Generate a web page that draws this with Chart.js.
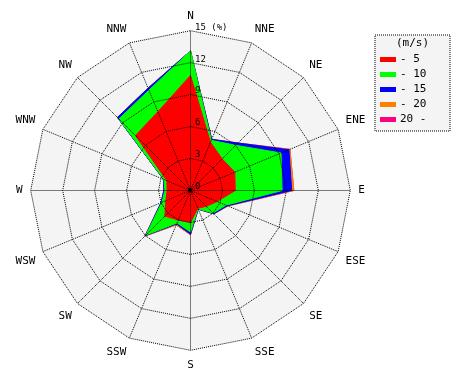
<!DOCTYPE html>
<html><head><meta charset="utf-8">
<script src="https://cdn.jsdelivr.net/npm/chart.js@4/dist/chart.umd.min.js"></script>
<style>html,body{margin:0;padding:0;background:#fff}</style>
</head><body>
<canvas id="c" width="470" height="380"></canvas>
<script>
// ---- data (percent frequency per speed class) ----
const directions = ['N','NNE','NE','ENE','E','ESE','SE','SSE','S','SSW','SW','WSW','W','WNW','NW','NNW'];
const speedClasses = ['- 5','- 10','- 15','- 20','20 -'];
const speedUnit = '(m/s)';
const freqUpTo5   = [10.8, 4.9, 4.2, 4.5, 4.2, 2.7, 2.1, 1.8, 3.0, 3.0, 3.4, 2.5, 2.2, 2.4, 7.3, 8.0];
const freqUpTo10  = [ 2.3, 0.2, 1.8, 4.7, 4.4, 0.9, 0.9, 0.05,0.9, 0.3, 2.5, 0.4, 0.2, 0.3, 2.2, 2.2];
const freqUpTo15  = [ 0.0, 0.1, 0.3, 0.8, 0.9, 0.15,0.1, 0.05,0.2, 0.1, 0.1, 0.1, 0.1, 0.05,0.2, 0.2];
const freqUpTo20  = [ 0.0, 0.0, 0.0, 0.1, 0.2, 0.05,0.0, 0.0, 0.05,0.1, 0.05,0.0, 0.0, 0.0, 0.0, 0.0];
const freqOver20  = [ 0.0, 0.0, 0.0, 0.0, 0.0, 0.0, 0.0, 0.0, 0.0, 0.0, 0.0, 0.0, 0.0, 0.0, 0.0, 0.0];
const radialTickValues = [0, 3, 6, 9, 12, 15];
const radialTickLabels = ['0', '3', '6', '9', '12', '15 (%)'];

// ---- styles ----
const classColors = ['#ff0000', '#00ff00', '#0000ff', '#ff8000', '#ff0080'];
const paneGrey = '#f4f4f4';
const monoFont = '"DejaVu Sans Mono", "Liberation Mono", monospace';

// stacked (cumulative) series for the wind rose
const classSeries = [freqUpTo5, freqUpTo10, freqUpTo15, freqUpTo20, freqOver20];
const cumulative = [];
classSeries.forEach((s, k) => {
  cumulative.push(s.map((v, i) => +(v + (k ? cumulative[k-1][i] : 0)).toFixed(2)));
});

const datasets = speedClasses.map((name, k) => ({
  label: name,
  data: cumulative[k],
  backgroundColor: classColors[k],
  borderColor: classColors[k],
  borderWidth: 1,
  pointRadius: 0,
  pointHoverRadius: 0,
  fill: 'origin',
  tension: 0
}));

const halfPixel = {
  id: 'halfPixel',
  beforeDraw(chart) { chart.ctx.save(); chart.ctx.translate(0.5, 0.5); },
  afterDraw(chart) { chart.ctx.restore(); }
};

const paneBackground = {
  id: 'paneBackground',
  beforeDatasetsDraw(chart) {
    const s = chart.scales.r, ctx = chart.ctx;
    ctx.save();
    ctx.beginPath();
    for (let i = 0; i < directions.length; i++) {
      const p = s.getPointPositionForValue(i, s.max);
      if (i === 0) ctx.moveTo(p.x, p.y); else ctx.lineTo(p.x, p.y);
    }
    ctx.closePath();
    ctx.fillStyle = paneGrey;
    ctx.fill();
    ctx.restore();
  }
};

const tickAndLegend = {
  id: 'tickAndLegend',
  afterDraw(chart) {
    const s = chart.scales.r, ctx = chart.ctx;
    ctx.save();
    // centre dot
    ctx.fillStyle = '#000';
    ctx.beginPath();
    ctx.arc(s.xCenter, s.yCenter, 2, 0, Math.PI * 2);
    ctx.fill();
    // radial tick labels to the right of the N axis
    ctx.font = '9px ' + monoFont;
    ctx.textAlign = 'left';
    ctx.textBaseline = 'middle';
    radialTickValues.forEach((v, i) => {
      const p = s.getPointPositionForValue(0, v);
      ctx.fillText(radialTickLabels[i], p.x + 5, p.y - 3);
    });
    // legend box
    const bx = 375, by = 35, bw = 75, bh = 96;
    ctx.fillStyle = paneGrey;
    ctx.fillRect(bx, by, bw, bh);
    ctx.strokeStyle = '#000';
    ctx.lineWidth = 1;
    ctx.setLineDash([1, 1]);
    ctx.strokeRect(bx, by, bw, bh);
    ctx.setLineDash([]);
    ctx.fillStyle = '#000';
    ctx.font = '11px ' + monoFont;
    ctx.textAlign = 'center';
    ctx.fillText(speedUnit, bx + bw / 2, by + 8);
    ctx.textAlign = 'left';
    speedClasses.forEach((name, k) => {
      const y = by + 24 + k * 15;
      ctx.fillStyle = classColors[k];
      ctx.fillRect(bx + 5, y - 2, 16, 5);
      ctx.fillStyle = '#000';
      ctx.fillText(name, bx + 25, y);
    });
    ctx.restore();
  }
};

new Chart(document.getElementById('c'), {
  type: 'radar',
  data: { labels: directions, datasets },
  plugins: [halfPixel, paneBackground, tickAndLegend],
  options: {
    responsive: false,
    animation: false,
    devicePixelRatio: 1,
    layout: { padding: { left: 9, right: 99, top: 9, bottom: 9 } },
    elements: { line: { tension: 0 } },
    plugins: { legend: { display: false }, tooltip: { enabled: false } },
    scales: {
      r: {
        min: 0, max: 15,
        ticks: { stepSize: 3, display: false },
        grid: { color: '#000', lineWidth: 1, z: 1 },
        border: { dash: [1, 1] },
        angleLines: { color: '#000', lineWidth: 1, borderDash: [1, 1] },
        pointLabels: { font: { family: monoFont, size: 11 }, color: '#000', padding: 8 }
      }
    }
  }
});
</script>
</body></html>
